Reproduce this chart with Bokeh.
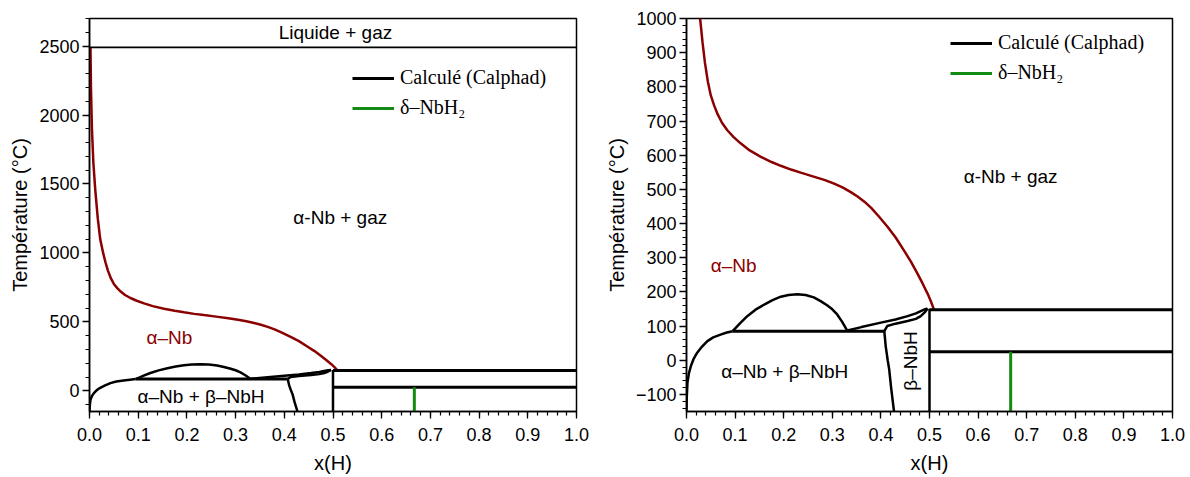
import math
from bokeh.plotting import figure
from bokeh.models import Range1d, FixedTicker, Legend, LegendItem, Label, PrintfTickFormatter
from bokeh.layouts import row
from bokeh.embed import file_html
from bokeh.resources import INLINE

# ---------------- data ----------------
# alpha-Nb / gas boundary (red)
x_gas = [0.002, 0.003, 0.005, 0.008, 0.012, 0.017, 0.022, 0.028, 0.033, 0.038, 0.044,
         0.050, 0.057, 0.064, 0.073, 0.084, 0.097, 0.112, 0.130, 0.153, 0.175, 0.194,
         0.215, 0.235, 0.260, 0.285, 0.305, 0.322, 0.338, 0.352, 0.366, 0.380, 0.395,
         0.414, 0.430, 0.448, 0.462, 0.475, 0.486, 0.496, 0.503, 0.509]
T_gas = [2490, 2200, 1900, 1650, 1450, 1250, 1100, 1000, 930, 870, 815,
         775, 745, 720, 695, 673, 653, 634, 614, 595, 580, 569,
         558, 549, 538, 527, 516, 505, 492, 479, 464, 446, 422,
         390, 360, 320, 288, 254, 224, 195, 172, 149]

# alpha-Nb solvus
x_solvus = [0.0, 0.0005, 0.002, 0.005, 0.009, 0.015, 0.022, 0.032, 0.043, 0.055, 0.070, 0.083, 0.095]
T_solvus = [-150, -110, -65, -38, -17, 5, 22, 40, 56, 67, 75, 81, 85]

# miscibility dome
x_dome = [0.095, 0.110, 0.125, 0.142, 0.160, 0.177, 0.194, 0.210, 0.228, 0.245, 0.262,
          0.276, 0.290, 0.300, 0.310, 0.320, 0.331]
T_dome = [85, 108, 129, 148, 163, 176, 186, 191, 193, 191, 184,
          173, 160, 149, 134, 113, 86]

# eutectoid line
x_eut = [0.095, 0.407]
T_eut = [85, 85]

# lens (upper / lower branches)
x_lens_up = [0.331, 0.360, 0.400, 0.430, 0.455, 0.472, 0.482, 0.490, 0.496]
T_lens_up = [87, 97, 110, 119, 129, 137, 144, 149, 151]
x_lens_low = [0.407, 0.413, 0.430, 0.455, 0.472, 0.482, 0.490, 0.496]
T_lens_low = [85, 100, 107, 115, 121, 129, 140, 151]

# beta-NbH left boundary
x_beta = [0.407, 0.410, 0.414, 0.417, 0.421, 0.427]
T_beta = [85, 40, 0, -26, -80, -150]

# x = 0.5 boundary
x_half = [0.5, 0.5]
T_half = [-150, 151]

# horizontal lines
x_h = [0.5, 1.0]
T_h_top = [148, 148]
T_h_low = [25, 25]
x_liq = [0.0, 1.0]
T_liq = [2490, 2490]

# delta-NbH2
x_delta = [0.667, 0.667]
T_delta = [-150, 25]

x_ticks = [0.0, 0.1, 0.2, 0.3, 0.4, 0.5, 0.6, 0.7, 0.8, 0.9, 1.0]
x_minor = [i / 50 for i in range(0, 51)]
yL_ticks = [0, 500, 1000, 1500, 2000, 2500]
yL_minor = list(range(-100, 2701, 100))
yR_ticks = list(range(-100, 1001, 100))
yR_minor = list(range(-140, 1001, 20))

SANS = "Liberation Sans"
SERIF = "Liberation Serif"
RED = "#8b0000"
GREEN = "#138a13"


def make_fig(ymin, ymax, yt, ym, w, mbl, mbr):
    p = figure(width=w, height=476,
               x_range=Range1d(0, 1), y_range=Range1d(ymin, ymax),
               output_backend="svg", toolbar_location=None,
               min_border_left=mbl, min_border_right=mbr,
               min_border_top=18, min_border_bottom=64)
    p.grid.visible = False
    p.outline_line_color = "black"
    p.outline_line_width = 1.5
    p.outline_line_alpha = 1
    p.xaxis.ticker = FixedTicker(ticks=x_ticks, minor_ticks=x_minor)
    p.yaxis.ticker = FixedTicker(ticks=yt, minor_ticks=ym)
    p.xaxis.formatter = PrintfTickFormatter(format="%.1f")
    for ax in (p.xaxis[0], p.yaxis[0]):
        ax.axis_line_width = 1.5
        ax.axis_line_color = "black"
        ax.major_tick_in = 0
        ax.major_tick_out = 7
        ax.minor_tick_in = 0
        ax.minor_tick_out = 4
        ax.major_tick_line_width = 1.3
        ax.minor_tick_line_width = 1.2
        ax.major_tick_line_color = "black"
        ax.minor_tick_line_color = "black"
        ax.major_label_text_font = SANS
        ax.major_label_text_font_size = "18px"
        ax.major_label_text_color = "black"
        ax.axis_label_text_font = SANS
        ax.axis_label_text_font_size = "20px"
        ax.axis_label_text_font_style = "normal"
        ax.axis_label_text_color = "black"
    p.xaxis.major_label_standoff = 9
    p.yaxis.major_label_standoff = 3
    p.xaxis.axis_label_standoff = 8
    p.yaxis.axis_label_standoff = 5
    p.xaxis.axis_label = "x(H)"
    p.yaxis.axis_label = "Température (°C)"

    p.line(x_gas, T_gas, line_color=RED, line_width=2.5)
    for xs, ts in ((x_solvus, T_solvus), (x_dome, T_dome), (x_lens_up, T_lens_up),
                   (x_lens_low, T_lens_low), (x_beta, T_beta), (x_half, T_half)):
        p.line(xs, ts, line_color="black", line_width=2.5)
    p.line(x_eut, T_eut, line_color="black", line_width=3)
    r_black = p.line(x_h, T_h_top, line_color="black", line_width=3)
    p.line(x_h, T_h_low, line_color="black", line_width=3)
    r_green = p.line(x_delta, T_delta, line_color=GREEN, line_width=3)
    return p, r_black, r_green


def add_legend(p, rb, rg, loc):
    leg = Legend(items=[LegendItem(label="Calculé (Calphad)", renderers=[rb]),
                        LegendItem(label="δ–NbH₂", renderers=[rg])],
                 location=loc, padding=0, spacing=7, glyph_width=42, glyph_height=20,
                 label_height=20, label_standoff=6,
                 label_text_font=SERIF, label_text_font_size="20px",
                 label_text_color="black",
                 border_line_color=None, background_fill_alpha=0)
    p.add_layout(leg, "center")


def lab(p, x, y, t, color="black", angle=0.0):
    p.add_layout(Label(x=x, y=y, text=t, text_font=SANS, text_font_size="19px",
                       text_color=color, text_align="center", text_baseline="middle",
                       angle=angle))


# left panel
pL, rbL, rgL = make_fig(-150, 2700, yL_ticks, yL_minor, 596, 89, 20)
pL.line(x_liq, T_liq, line_color="black", line_width=1.8)
add_legend(pL, rbL, rgL, (263, 292))
lab(pL, 0.505, 2600, "Liquide + gaz")
lab(pL, 0.515, 1257, "α-Nb + gaz")
lab(pL, 0.164, 385, "α–Nb", RED)
lab(pL, 0.229, -44, "α–Nb + β–NbH")

# right panel
pR, rbR, rgR = make_fig(-150, 1000, yR_ticks, yR_minor, 590, 90, 14)
add_legend(pR, rbR, rgR, (264, 327))
lab(pR, 0.667, 537, "α-Nb + gaz")
lab(pR, 0.097, 278, "α–Nb", RED)
lab(pR, 0.202, -33, "α–Nb + β–NbH")
lab(pR, 0.461, -2, "β–NbH", angle=math.pi / 2)

layout = row(pL, pR)
open("out.html", "w").write(file_html(layout, INLINE))
